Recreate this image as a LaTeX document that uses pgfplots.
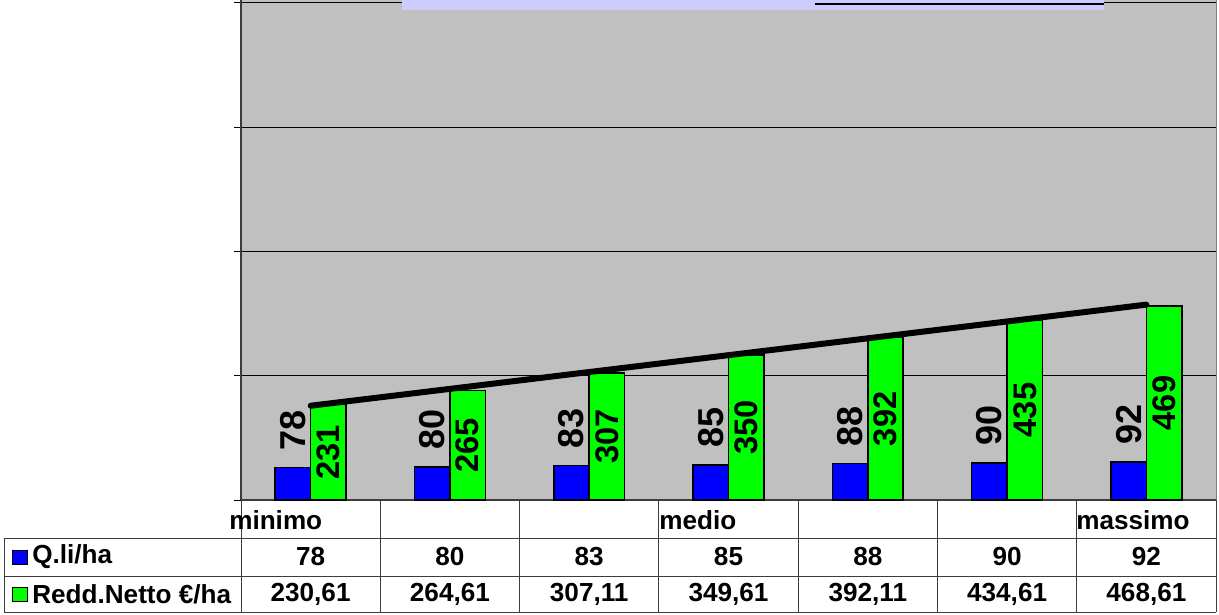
\documentclass[border=0pt]{standalone}
\usepackage{fontspec}
\setmainfont{Liberation Sans}
\usepackage{pgfplots}
\pgfplotsset{compat=1.18}
\definecolor{plotgray}{RGB}{192,192,192}
\definecolor{qblue}{RGB}{0,0,255}
\definecolor{rgreen}{RGB}{0,255,0}
\definecolor{titlebox}{RGB}{204,204,255}
\definecolor{rulegray}{RGB}{60,60,60}
\newcommand\tabfont{\bfseries\fontsize{19.6}{19.6}\selectfont}

\begin{document}
\begin{tikzpicture}[x=0.75pt,y=0.75pt]
\useasboundingbox (0,0) rectangle (1219,614);
\begin{axis}[
  at={(180.75pt,85.5pt)}, anchor=south west,
  scale only axis, width=731.25pt, height=375pt,
  xmin=-0.5, xmax=6.5, ymin=0, ymax=1207,
  xtick=\empty,
  ytick={0,300,600,900,1200}, yticklabels={},
  ymajorgrids, grid style={black, line width=0.75pt},
  axis background/.style={fill=plotgray},
  axis lines*=left,
  axis line style={-, draw=rulegray, line width=1.5pt},
  tick align=outside, major tick length=5.25pt,
  tick style={black, line width=0.75pt},
  bar width=26.6pt,
  clip=false,
]
% Q.li/ha
\addplot[ybar, bar shift=-13.3pt, fill=qblue, draw=black, line width=1.2pt,
  point meta=y,
  nodes near coords={\pgfmathprintnumber[fixed,precision=0,assume math mode=true]{\pgfplotspointmeta}},
  nodes near coords style={shift={(-13.3pt,0pt)}, rotate=90, anchor=west,
    inner xsep=12.5pt, inner ysep=0pt, text=black,
    font=\bfseries\fontsize{27}{27}\selectfont}]
  coordinates {(0,78)(1,80)(2,83)(3,85)(4,88)(5,90)(6,92)};
% Redd.Netto
\addplot[ybar, bar shift=13.3pt, fill=rgreen, draw=black, line width=1.2pt,
  point meta=y,
  visualization depends on={rawy \as \rawy},
  nodes near coords={\pgfmathprintnumber[fixed,precision=0,assume math mode=true]{\pgfplotspointmeta}},
  nodes near coords style={shift={(axis direction cs:0,-\rawy/2)},
    xshift=13.3pt, rotate=90, anchor=center, inner sep=0pt, text=black,
    font=\bfseries\fontsize{24.5}{24.5}\selectfont}]
  coordinates {(0,230.61)(1,264.61)(2,307.11)(3,349.61)(4,392.11)(5,434.61)(6,468.61)};
% linear trend of Redd.Netto
\addplot[sharp plot, black, line width=4.5pt, line cap=round]
  coordinates {(0,227.57)(6,471.65)};
\end{axis}

% right border of the plot area
\draw[gray, line width=0.75pt] (1216,114) -- (1216,614);
% title box, cut off at the top
\fill[titlebox] (402,604) rectangle (1104,616);
\draw[black, line width=2.2pt] (815,610) -- (1104,610);

% data table
\begin{scope}[draw=rulegray, line width=0.75pt]
\draw (4,76) -- (1216,76);
\draw (4,38) -- (1216,38);
\draw (4,2) -- (1216,2);
\draw (4,76) -- (4,2);
\foreach \x in {241,380.3,519.6,658.9,798.1,937.4,1076.7,1216}
  \draw (\x,114) -- (\x,2);
\end{scope}
\node[font=\tabfont, anchor=west, inner sep=0pt] at (229,94) {minimo};
\node[font=\tabfont, anchor=west, inner sep=0pt] at (659,94) {medio};
\node[font=\tabfont, anchor=west, inner sep=0pt] at (1076,94) {massimo};
\draw[black, line width=0.75pt, fill=qblue] (12,50) rectangle (27,64);
\node[font=\tabfont, anchor=west, inner sep=0pt] at (32,57) {Q.li/ha};
\draw[black, line width=0.75pt, fill=rgreen] (12,13) rectangle (27,27);
\node[font=\tabfont, anchor=west, inner sep=0pt] at (32,20) {Redd.Netto €/ha};
\foreach \v [count=\i from 0] in {78,80,83,85,88,90,92}
  \node[font=\tabfont, inner sep=0pt] at (310.6+139.3*\i,57) {\v};
\foreach \v [count=\i from 0] in {{230,61},{264,61},{307,11},{349,61},{392,11},{434,61},{468,61}}
  \node[font=\tabfont, inner sep=0pt] at (310.6+139.3*\i,20) {\v};
\end{tikzpicture}
\end{document}
